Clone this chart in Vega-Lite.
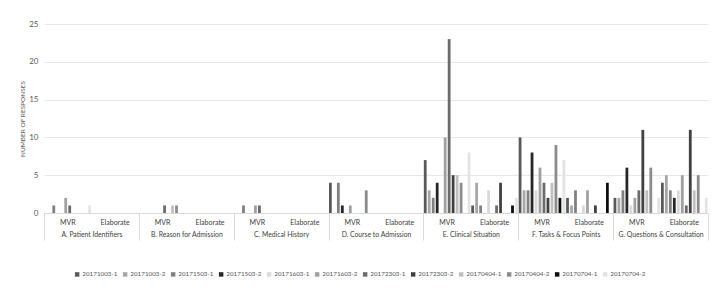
{
  "$schema": "https://vega.github.io/schema/vega-lite/v6.json",
  "autosize": "none",
  "width": 664,
  "height": 189,
  "padding": {"left": 44, "top": 24, "right": 12, "bottom": 76},
  "background": "white",
  "config": {
    "font": "Lato",
    "view": {"stroke": null}
  },
  "datasets": {
    "bars": [
      {"k": "A|MVR", "s": "20171503-1", "n": 1},
      {"k": "A|MVR", "s": "20171603-2", "n": 2},
      {"k": "A|MVR", "s": "20172303-1", "n": 1},
      {"k": "A|MVR", "s": "20170704-2", "n": 1},
      {"k": "B|MVR", "s": "20172303-1", "n": 1},
      {"k": "B|MVR", "s": "20170404-1", "n": 1},
      {"k": "B|MVR", "s": "20170404-2", "n": 1},
      {"k": "C|MVR", "s": "20171503-1", "n": 1},
      {"k": "C|MVR", "s": "20171603-2", "n": 1},
      {"k": "C|MVR", "s": "20172303-1", "n": 1},
      {"k": "D|MVR", "s": "20171003-1", "n": 4},
      {"k": "D|MVR", "s": "20171503-1", "n": 4},
      {"k": "D|MVR", "s": "20171503-2", "n": 1},
      {"k": "D|MVR", "s": "20171603-2", "n": 1},
      {"k": "D|MVR", "s": "20170404-2", "n": 3},
      {"k": "E|MVR", "s": "20171003-1", "n": 7},
      {"k": "E|MVR", "s": "20171003-2", "n": 3},
      {"k": "E|MVR", "s": "20171503-1", "n": 2},
      {"k": "E|MVR", "s": "20171503-2", "n": 4},
      {"k": "E|MVR", "s": "20171603-2", "n": 10},
      {"k": "E|MVR", "s": "20172303-1", "n": 23},
      {"k": "E|MVR", "s": "20172303-2", "n": 5},
      {"k": "E|MVR", "s": "20170404-1", "n": 5},
      {"k": "E|MVR", "s": "20170404-2", "n": 4},
      {"k": "E|MVR", "s": "20170704-2", "n": 8},
      {"k": "E|Elaborate", "s": "20171003-1", "n": 1},
      {"k": "E|Elaborate", "s": "20171003-2", "n": 4},
      {"k": "E|Elaborate", "s": "20171503-1", "n": 1},
      {"k": "E|Elaborate", "s": "20171603-1", "n": 3},
      {"k": "E|Elaborate", "s": "20172303-1", "n": 1},
      {"k": "E|Elaborate", "s": "20172303-2", "n": 4},
      {"k": "E|Elaborate", "s": "20170704-1", "n": 1},
      {"k": "E|Elaborate", "s": "20170704-2", "n": 2},
      {"k": "F|MVR", "s": "20171003-1", "n": 10},
      {"k": "F|MVR", "s": "20171003-2", "n": 3},
      {"k": "F|MVR", "s": "20171503-1", "n": 3},
      {"k": "F|MVR", "s": "20171503-2", "n": 8},
      {"k": "F|MVR", "s": "20171603-1", "n": 3},
      {"k": "F|MVR", "s": "20171603-2", "n": 6},
      {"k": "F|MVR", "s": "20172303-1", "n": 4},
      {"k": "F|MVR", "s": "20172303-2", "n": 2},
      {"k": "F|MVR", "s": "20170404-1", "n": 4},
      {"k": "F|MVR", "s": "20170404-2", "n": 9},
      {"k": "F|MVR", "s": "20170704-1", "n": 2},
      {"k": "F|MVR", "s": "20170704-2", "n": 7},
      {"k": "F|Elaborate", "s": "20171003-1", "n": 2},
      {"k": "F|Elaborate", "s": "20171003-2", "n": 1},
      {"k": "F|Elaborate", "s": "20171503-1", "n": 3},
      {"k": "F|Elaborate", "s": "20171603-1", "n": 1},
      {"k": "F|Elaborate", "s": "20171603-2", "n": 3},
      {"k": "F|Elaborate", "s": "20172303-2", "n": 1},
      {"k": "F|Elaborate", "s": "20170704-1", "n": 4},
      {"k": "G|MVR", "s": "20171003-1", "n": 2},
      {"k": "G|MVR", "s": "20171003-2", "n": 2},
      {"k": "G|MVR", "s": "20171503-1", "n": 3},
      {"k": "G|MVR", "s": "20171503-2", "n": 6},
      {"k": "G|MVR", "s": "20171603-1", "n": 1},
      {"k": "G|MVR", "s": "20171603-2", "n": 2},
      {"k": "G|MVR", "s": "20172303-1", "n": 3},
      {"k": "G|MVR", "s": "20172303-2", "n": 11},
      {"k": "G|MVR", "s": "20170404-1", "n": 3},
      {"k": "G|MVR", "s": "20170404-2", "n": 6},
      {"k": "G|MVR", "s": "20170704-2", "n": 2},
      {"k": "G|Elaborate", "s": "20171003-1", "n": 4},
      {"k": "G|Elaborate", "s": "20171003-2", "n": 5},
      {"k": "G|Elaborate", "s": "20171503-1", "n": 3},
      {"k": "G|Elaborate", "s": "20171503-2", "n": 2},
      {"k": "G|Elaborate", "s": "20171603-1", "n": 3},
      {"k": "G|Elaborate", "s": "20171603-2", "n": 5},
      {"k": "G|Elaborate", "s": "20172303-1", "n": 1},
      {"k": "G|Elaborate", "s": "20172303-2", "n": 11},
      {"k": "G|Elaborate", "s": "20170404-1", "n": 3},
      {"k": "G|Elaborate", "s": "20170404-2", "n": 5},
      {"k": "G|Elaborate", "s": "20170704-2", "n": 2}
    ],
    "groups": [
      {"g": "A. Patient Identifiers"},
      {"g": "B. Reason for Admission"},
      {"g": "C. Medical History"},
      {"g": "D. Course to Admission"},
      {"g": "E. Clinical Situation"},
      {"g": "F. Tasks & Focus Points"},
      {"g": "G. Questions & Consultation"}
    ]
  },
  "layer": [
    {
      "data": {"name": "bars"},
      "mark": {"type": "bar"},
      "encoding": {
        "x": {
          "field": "k",
          "type": "nominal",
          "scale": {
            "domain": ["A|MVR", "A|Elaborate", "B|MVR", "B|Elaborate", "C|MVR", "C|Elaborate", "D|MVR", "D|Elaborate", "E|MVR", "E|Elaborate", "F|MVR", "F|Elaborate", "G|MVR", "G|Elaborate"],
            "paddingInner": 0,
            "paddingOuter": 0
          },
          "axis": {
            "orient": "bottom",
            "title": null,
            "labelExpr": "split(datum.label, '|')[1]",
            "labelAngle": 0,
            "labelOverlap": false,
            "labelFontSize": 7,
            "labelColor": "#404040",
            "labelPadding": 5,
            "ticks": false,
            "domainColor": "#d9d9d9",
            "grid": false
          }
        },
        "xOffset": {
          "field": "s",
          "type": "nominal",
          "scale": {
            "domain": ["20171003-1", "20171003-2", "20171503-1", "20171503-2", "20171603-1", "20171603-2", "20172303-1", "20172303-2", "20170404-1", "20170404-2", "20170704-1", "20170704-2"],
            "paddingInner": 0.3,
            "paddingOuter": 0.1
          }
        },
        "y": {
          "field": "n",
          "type": "quantitative",
          "scale": {"domain": [0, 25], "nice": false},
          "axis": {
            "title": "NUMBER OF RESPONSES",
            "titleFontSize": 6.5,
            "titleFontWeight": "normal",
            "titleColor": "#595959",
            "titlePadding": 3,
            "values": [0, 5, 10, 15, 20, 25],
            "labelFontSize": 8,
            "labelColor": "#595959",
            "labelPadding": 6,
            "domain": false,
            "ticks": false,
            "grid": true,
            "gridColor": "#e6e6e6"
          }
        },
        "color": {
          "field": "s",
          "type": "nominal",
          "scale": {
            "domain": ["20171003-1", "20171003-2", "20171503-1", "20171503-2", "20171603-1", "20171603-2", "20172303-1", "20172303-2", "20170404-1", "20170404-2", "20170704-1", "20170704-2"],
            "range": ["#595959", "#a6a6a6", "#808080", "#262626", "#d9d9d9", "#a0a0a0", "#6b6b6b", "#404040", "#bfbfbf", "#8c8c8c", "#0d0d0d", "#e3e3e3"]
          },
          "legend": {
            "title": null,
            "orient": "none",
            "legendX": 30,
            "legendY": 247,
            "direction": "horizontal",
            "columns": 12,
            "symbolType": "square",
            "symbolSize": 20,
            "symbolStrokeWidth": 0,
            "labelFontSize": 6.3,
            "labelColor": "#595959",
            "labelOffset": 2,
            "columnPadding": 4
          }
        }
      }
    },
    {
      "data": {"name": "groups"},
      "mark": {"type": "text", "text": ""},
      "encoding": {
        "x": {
          "field": "g",
          "type": "nominal",
          "scale": {"paddingInner": 0, "paddingOuter": 0},
          "axis": {
            "orient": "bottom",
            "title": null,
            "labelAngle": 0,
            "labelOverlap": false,
            "labelFontSize": 6.8,
            "labelColor": "#404040",
            "labelPadding": -9,
            "domain": false,
            "ticks": true,
            "tickBand": "extent",
            "tickSize": 27,
            "tickColor": "#d9d9d9",
            "grid": false
          }
        }
      }
    }
  ],
  "resolve": {"scale": {"x": "independent"}, "axis": {"x": "independent"}}
}
